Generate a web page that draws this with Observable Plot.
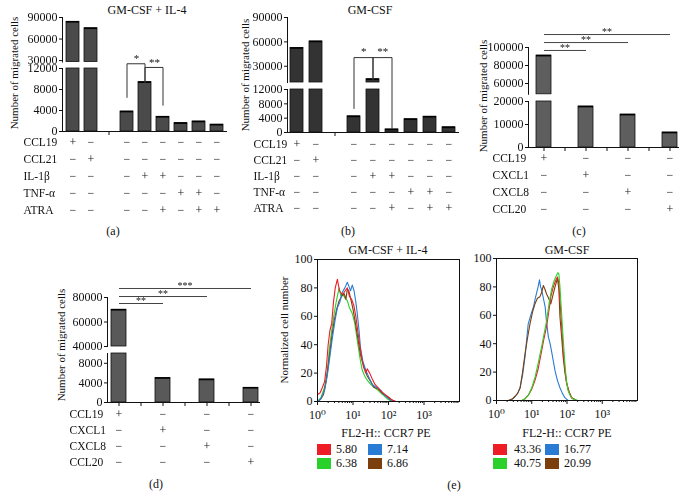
<!DOCTYPE html>
<html><head><meta charset="utf-8">
<script src="https://cdn.jsdelivr.net/npm/d3@7"></script>
<script src="https://cdn.jsdelivr.net/npm/@observablehq/plot@0.6"></script>
<style>
html,body{margin:0;padding:0;background:#fff;}
#root{position:relative;width:691px;height:496px;overflow:hidden;font-family:'Liberation Serif','DejaVu Serif',serif;color:#111;background:#fff;}
#root svg{position:absolute;left:0;top:0;}
#root svg.gray{filter:grayscale(1);}
.lbl{position:absolute;white-space:nowrap;line-height:1;}
.sw{position:absolute;width:14px;height:11px;}
</style></head><body><div id="root"></div>
<script>
// ---------------- data ----------------
const conditionsAB = ["CCL19","CCL21","Medium","IL-1β","IL-1β+ATRA","TNF-α","TNF-α+ATRA","ATRA"];
const migratedA = [84000, 75000, 3800, 9400, 2800, 1600, 1900, 1300];
const migratedB = [52500, 60500, 4500, 14000, 850, 3700, 4400, 1450];
const factorRowsAB = ["CCL19","CCL21","IL-1β","TNF-α","ATRA"];
const factorSignsAB = [
  ["+","−","−","−","−","−","−","−"],
  ["−","+","−","−","−","−","−","−"],
  ["−","−","−","+","+","−","−","−"],
  ["−","−","−","−","−","+","+","−"],
  ["−","−","−","−","+","−","+","+"]
];
const chemokinesCD = ["CCL19","CXCL1","CXCL8","CCL20"];
const migratedC = [91000, 17800, 14300, 6500];
const migratedD = [70000, 5000, 4700, 3000];
const factorRowsCD = ["CCL19","CXCL1","CXCL8","CCL20"];
const factorSignsCD = [
  ["+","−","−","−"],
  ["−","+","−","−"],
  ["−","−","+","−"],
  ["−","−","−","+"]
];
const bracketsA = [
  {from:"Medium", to:"IL-1β", y1:6500, top:12900, y2:9400, label:"*"},
  {from:"IL-1β", to:"IL-1β+ATRA", y1:9400, top:12200, y2:5000, label:"**"}
];
const bracketsB = [
  {from:"Medium", to:"IL-1β", y1:6700, top:20900, y2:14800, label:"*"},
  {from:"IL-1β", to:"IL-1β+ATRA", y1:14800, top:20900, y2:1200, label:"**"}
];
const sigC = [{to:"CXCL1", y:96700, label:"**"}, {to:"CXCL8", y:105500, label:"**"}, {to:"CCL20", y:114400, label:"**"}];
const sigD = [{to:"CXCL1", y:75100, label:"**"}, {to:"CXCL8", y:80800, label:"**"}, {to:"CCL20", y:87350, label:"***"}];

// histograms: [log10(FL2-H), normalized count]
const il4Red = [[0,5],[0.07,6],[0.14,10],[0.2,14],[0.25,24],[0.3,40],[0.35,50],[0.4,55],[0.45,70],[0.5,80],[0.56,86],[0.62,78],[0.7,75],[0.78,78],[0.84,80],[0.9,74],[0.96,72],[1.02,68],[1.08,60],[1.17,43],[1.25,30],[1.3,24],[1.36,20],[1.4,23],[1.47,20],[1.54,16],[1.62,12],[1.7,10],[1.8,7],[1.9,5],[2.0,3],[2.1,1],[2.2,0]];
const il4Green = [[0,0],[0.1,3],[0.2,10],[0.28,22],[0.33,36],[0.4,50],[0.47,62],[0.54,72],[0.61,80],[0.66,74],[0.7,76],[0.77,73],[0.84,71],[0.9,66],[0.98,62],[1.05,55],[1.12,43],[1.2,30],[1.26,22],[1.33,18],[1.4,15],[1.5,12],[1.59,10],[1.7,8],[1.78,6],[1.88,4],[1.96,2],[2.1,0]];
const il4Blue = [[0,0],[0.1,2],[0.2,8],[0.28,19],[0.35,32],[0.42,45],[0.5,58],[0.56,66],[0.63,70],[0.7,77],[0.77,80],[0.84,84],[0.9,80],[0.93,78],[0.98,82],[1.03,78],[1.08,70],[1.12,62],[1.17,50],[1.21,38],[1.28,28],[1.36,22],[1.45,17],[1.54,12],[1.65,10],[1.78,8],[1.87,5],[1.96,3],[2.1,0]];
const il4Brown = [[0.03,0],[0.1,2],[0.17,5],[0.25,15],[0.33,31],[0.4,45],[0.47,57],[0.54,65],[0.61,71],[0.68,74],[0.75,76],[0.8,72],[0.84,79],[0.88,78],[0.93,73],[1.0,65],[1.07,55],[1.14,44],[1.21,33],[1.3,25],[1.4,18],[1.5,14],[1.59,10],[1.7,9],[1.82,6],[1.92,4],[2.0,3],[2.1,1],[2.2,0]];
const gmBlue = [[0.34,0],[0.45,1],[0.53,3],[0.6,5],[0.67,9],[0.74,18],[0.81,31],[0.86,44],[0.9,54],[0.97,60],[1.05,66],[1.1,72],[1.14,76],[1.18,80],[1.22,85],[1.25,80],[1.28,78],[1.33,72],[1.38,66],[1.42,55],[1.47,45],[1.52,40],[1.56,35],[1.61,28],[1.66,21],[1.73,14],[1.8,9],[1.87,5],[1.94,2],[2.03,0]];
const gmBrown = [[0.34,0],[0.45,1],[0.53,3],[0.6,5],[0.67,9],[0.74,20],[0.81,33],[0.88,44],[0.95,54],[1.02,62],[1.09,68],[1.16,72],[1.23,73],[1.28,76],[1.33,81],[1.38,78],[1.42,75],[1.48,72],[1.54,68],[1.6,74],[1.66,80],[1.73,86],[1.77,78],[1.8,59],[1.85,44],[1.89,31],[1.94,20],[1.99,12],[2.06,6],[2.13,2],[2.27,0]];
const gmRed = [[0.72,0],[0.8,1],[0.91,4],[1.0,8],[1.09,14],[1.18,22],[1.28,35],[1.35,44],[1.42,52],[1.48,62],[1.54,73],[1.6,79],[1.64,82],[1.69,85],[1.73,87],[1.77,82],[1.8,71],[1.85,52],[1.89,35],[1.94,22],[1.99,12],[2.06,6],[2.13,2],[2.27,0]];
const gmGreen = [[0.72,0],[0.8,1],[0.91,4],[1.0,9],[1.09,16],[1.18,26],[1.28,38],[1.35,47],[1.42,56],[1.49,68],[1.56,78],[1.63,84],[1.7,88],[1.74,90],[1.77,89],[1.8,80],[1.84,64],[1.89,44],[1.94,26],[1.98,15],[2.03,7],[2.1,3],[2.17,1],[2.31,0]];
const mfiIL4 = ["5.80","7.14","6.38","6.86"];   // red, blue, green, brown
const mfiGM = ["43.36","16.77","40.75","20.99"];
const curveColors = {red:"#ee1c24", green:"#2bd12b", blue:"#2a7bd4", brown:"#7a3f0c"};

// ---------------- helpers ----------------
const FONT = "'Liberation Serif','DejaVu Serif',serif";
const W = 691, H = 496;
const root = document.getElementById("root");

function addPlot(box, opts, gray = false) {
  const svg = Plot.plot({
    width: W, height: H,
    marginLeft: box[0], marginTop: box[1], marginRight: W - box[2], marginBottom: H - box[3],
    style: {background: "transparent", fontFamily: FONT, fontSize: "12px", color: "#111", overflow: "visible"},
    ...opts
  });
  if (gray) svg.classList.add("gray");
  root.appendChild(svg);
}
function txt(s, x, y, size = 12, rotate = 0) {
  const d = document.createElement("div");
  d.className = "lbl";
  d.textContent = s;
  d.style.left = x + "px"; d.style.top = y + "px";
  d.style.fontSize = size + "px";
  d.style.transform = `translate(-50%,-50%) rotate(${rotate}deg)`;
  root.appendChild(d);
}
function swatch(color, x, y) {
  const d = document.createElement("div");
  d.className = "sw";
  d.style.left = x + "px"; d.style.top = (y - 5.5) + "px"; d.style.background = color;
  root.appendChild(d);
}
const fmt = d3.format("d");

function barPanel(p) {
  const data = p.cats.map((c, i) => ({cat: c, value: p.values[i]}));
  const xs = {type: "band", domain: p.domain, range: p.xRange, paddingInner: 0.3, paddingOuter: p.po, axis: null};
  const barStyle = {fill: p.fill, stroke: "#111", strokeWidth: 0.8};
  const up = data.filter(d => d.value > p.upper.domain[0]);
  addPlot([p.axisX, p.upper.top, p.axisEnd, p.upper.bottom], {
    x: xs, y: {domain: p.upper.domain, axis: null},
    marks: [
      Plot.barY(up, {x: "cat", y1: p.upper.domain[0], y2: "value", ...barStyle}),
      Plot.tickY(up, {x: "cat", y: "value", stroke: "#000", strokeWidth: 1.6}),
      Plot.axisY({ticks: p.upper.ticks, tickSize: 3, tickPadding: 2, tickFormat: fmt, label: null}),
      Plot.frame({anchor: "left", stroke: "#111"}),
      ...(p.upperMarks || [])
    ]
  }, true);
  const lowMax = p.lower.domain[1];
  addPlot([p.axisX, p.lower.top, p.axisEnd, p.lower.bottom], {
    x: xs, y: {domain: p.lower.domain, axis: null},
    marks: [
      Plot.barY(data, {x: "cat", y1: 0, y2: d => Math.min(d.value, lowMax), ...barStyle}),
      Plot.tickY(data.filter(d => d.value <= lowMax), {x: "cat", y: "value", stroke: "#000", strokeWidth: 1.6}),
      Plot.axisY({ticks: p.lower.ticks, tickSize: 3, tickPadding: 2, tickFormat: fmt, label: null}),
      Plot.axisX({ticks: p.xTicks, tickSize: 4, tickFormat: () => "", label: null}),
      Plot.frame({anchor: "left", stroke: "#111"}),
      Plot.ruleY([0], {stroke: "#111"}),
      ...(p.lowerMarks || [])
    ]
  }, true);
  const cells = p.rows.flatMap((r, i) => p.cats.map((c, j) => ({row: r, cat: c, sign: p.signs[i][j]})));
  addPlot([p.axisX, p.rowsY[0], p.axisEnd, p.rowsY[1]], {
    x: xs, y: {type: "point", domain: p.rows, range: p.rowsY, padding: 0, axis: null},
    marks: [
      Plot.text(cells, {x: "cat", y: "row", text: "sign", fontSize: 12, fill: "#111"}),
      Plot.text(p.rows, {y: d => d, text: d => d, frameAnchor: "left", textAnchor: "start", dx: p.rowDx, fontSize: 11.5, fill: "#111"})
    ]
  }, true);
}
function bracketPath(br) {
  return br.flatMap((b, i) => [
    {k: i, x: b.from, y: b.y1}, {k: i, x: b.from, y: b.top},
    {k: i, x: b.to, y: b.top}, {k: i, x: b.to, y: b.y2}
  ]);
}

// ---------------- panel (a) ----------------
const domainAB = [conditionsAB[0], conditionsAB[1], "gap", ...conditionsAB.slice(2)];
barPanel({
  cats: conditionsAB, values: migratedA, domain: domainAB, xRange: [62, 227], po: 0,
  axisX: 62, axisEnd: 227, fill: "#4a4a4a",
  upper: {domain: [28000, 90000], top: 17, bottom: 61.5, ticks: [30000, 60000, 90000]},
  lower: {domain: [0, 12000], top: 68, bottom: 131, ticks: [0, 4000, 8000, 12000]},
  xTicks: ["gap"], rows: factorRowsAB, signs: factorSignsAB, rowsY: [142, 210], rowDx: -39,
  lowerMarks: [
    Plot.line(bracketPath(bracketsA), {x: "x", y: "y", z: "k", stroke: "#333", strokeWidth: 1}),
    Plot.text(bracketsA, {x: "from", y: "top", text: "label", dx: 9.5, dy: -5, fontSize: 11, fill: "#111"})
  ]
});
// ---------------- panel (b) ----------------
barPanel({
  cats: conditionsAB, values: migratedB, domain: domainAB, xRange: [287, 459], po: 0.1,
  axisX: 287, axisEnd: 459, fill: "#333333",
  upper: {domain: [10000, 90000], top: 17, bottom: 82, ticks: [30000, 60000, 90000]},
  lower: {domain: [0, 12000], top: 89, bottom: 132, ticks: [0, 4000, 8000, 12000]},
  xTicks: ["gap"], rows: factorRowsAB, signs: factorSignsAB, rowsY: [143, 209], rowDx: -34,
  lowerMarks: [
    Plot.line(bracketPath(bracketsB), {x: "x", y: "y", z: "k", stroke: "#333", strokeWidth: 1}),
    Plot.text(bracketsB, {x: "from", y: "top", text: "label", dx: 9.7, dy: -6, fontSize: 11, fill: "#111"})
  ]
});
// ---------------- panels (c), (d) ----------------
const domainCD = chemokinesCD.flatMap((c, i) => i ? ["sep" + i, c] : [c]);
const midSlot = to => domainCD[domainCD.indexOf(to) / 2];
barPanel({
  cats: chemokinesCD, values: migratedC, domain: domainCD, xRange: [533, 679], po: 0,
  axisX: 528, axisEnd: 679, fill: "#5e5e5e",
  upper: {domain: [48000, 100000], top: 47, bottom: 93.8, ticks: [60000, 80000, 100000]},
  lower: {domain: [0, 20000], top: 101, bottom: 147, ticks: [0, 10000, 20000]},
  xTicks: domainCD, rows: factorRowsCD, signs: factorSignsCD, rowsY: [158, 209], rowDx: -36,
  upperMarks: [
    Plot.link(sigC, {x1: () => "CCL19", x2: "to", y1: "y", y2: "y", stroke: "#444", strokeWidth: 1}),
    Plot.text(sigC, {x: d => midSlot(d.to), y: "y", text: "label", dy: -3, fontSize: 10, fill: "#111"})
  ]
});
barPanel({
  cats: chemokinesCD, values: migratedD, domain: domainCD, xRange: [110, 260], po: 0,
  axisX: 107, axisEnd: 260, fill: "#595959",
  upper: {domain: [40000, 80000], top: 297, bottom: 346, ticks: [40000, 60000, 80000]},
  lower: {domain: [0, 10000], top: 353, bottom: 402, ticks: [0, 4000, 8000]},
  xTicks: domainCD, rows: factorRowsCD, signs: factorSignsCD, rowsY: [413, 463], rowDx: -38,
  upperMarks: [
    Plot.link(sigD, {x1: () => "CCL19", x2: "to", y1: "y", y2: "y", stroke: "#444", strokeWidth: 1}),
    Plot.text(sigD, {x: d => midSlot(d.to), y: "y", text: "label", dy: -3, fontSize: 10, fill: "#111"})
  ]
});

// ---------------- panel (e) ----------------
const sup = ["⁰","¹","²","³","⁴"];
const minorTicks = d3.range(0, 4).flatMap(e => d3.range(2, 10).map(k => k * 10 ** e));
function histPanel(box, curves) {
  addPlot(box, {
    x: {type: "log", domain: [1, 1e4], axis: null},
    y: {domain: [0, 100], axis: null},
    marks: [
      ...curves.map(c => Plot.line(c.pts, {x: d => 10 ** d[0], y: d => d[1], stroke: c.color, strokeWidth: 1.1})),
      Plot.frame({stroke: "#111"}),
      Plot.axisY({ticks: [0, 20, 40, 60, 80, 100], tickSize: 3, tickPadding: 2, label: null}),
      Plot.axisX({ticks: [1, 10, 100, 1000], tickSize: 4, tickPadding: 5, tickFormat: d => "10" + sup[Math.round(Math.log10(d))], label: null}),
      Plot.axisX({ticks: minorTicks, tickSize: 2, tickFormat: () => "", label: null})
    ]
  });
}
histPanel([317, 259, 459, 401], [
  {pts: il4Green, color: curveColors.green},
  {pts: il4Brown, color: curveColors.brown},
  {pts: il4Blue, color: curveColors.blue},
  {pts: il4Red, color: curveColors.red}
]);
histPanel([496, 258, 637, 400], [
  {pts: gmBlue, color: curveColors.blue},
  {pts: gmBrown, color: curveColors.brown},
  {pts: gmRed, color: curveColors.red},
  {pts: gmGreen, color: curveColors.green}
]);

// ---------------- text ----------------
txt("GM-CSF + IL-4", 147, 10, 12);
txt("GM-CSF", 370, 10, 12);
txt("Number of migrated cells", 14, 73, 11, -90);
txt("Number of migrated cells", 245, 75, 11, -90);
txt("Number of migrated cells", 483, 96, 11, -90);
txt("Number of migrated cells", 61, 345, 11, -90);
txt("(a)", 113, 231, 12);
txt("(b)", 348, 231, 12);
txt("(c)", 579, 231, 12);
txt("(d)", 156, 484, 12);
txt("(e)", 454, 485, 12);
txt("GM-CSF + IL-4", 388, 250, 12);
txt("GM-CSF", 567, 250, 12);
txt("FL2-H:: CCR7 PE", 386, 433, 12);
txt("FL2-H:: CCR7 PE", 567, 433, 12);
txt("Normalized cell number", 284, 330, 11, -90);

// legends
const legendOrder = ["red", "blue", "green", "brown"];
function legend(vals, x0, x1, tdx0, tdx1) {
  legendOrder.forEach((c, i) => {
    const col = i % 2, row = Math.floor(i / 2);
    const sx = col ? x1 : x0, y = row ? 463 : 449;
    swatch(curveColors[c], sx, y);
    const d = document.createElement("div");
    d.className = "lbl"; d.textContent = vals[i];
    d.style.left = (sx + (col ? tdx1 : tdx0)) + "px"; d.style.top = (y - 6) + "px"; d.style.fontSize = "12px";
    root.appendChild(d);
  });
}
legend(mfiIL4, 317, 368, 19, 19);
legend(mfiGM, 493, 545, 21, 19);
</script></body></html>
